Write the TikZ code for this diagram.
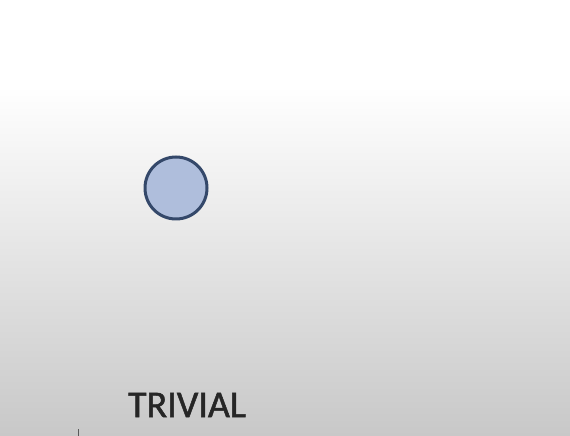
\documentclass[tikz,border=0pt]{standalone}
\usepackage{fontspec}
\setmainfont{Carlito}
\newfontfamily\captionfont[FakeBold=1.3]{Carlito}
\usetikzlibrary{positioning}
\definecolor{dotfill}{HTML}{AFBEDC}
\definecolor{dotrim}{HTML}{34486A}
\definecolor{inkgray}{HTML}{262626}
\definecolor{fadegray}{HTML}{C8C8C8}

\begin{document}
\begin{tikzpicture}[
  x=1pt,y=1pt,
  vertex/.style={circle,draw=dotrim,fill=dotfill,line width=3pt,
    minimum size=62pt,inner sep=0pt},
  caption/.style={font=\captionfont\fontsize{38}{42}\selectfont,text=inkgray,inner sep=0pt}
]
% backdrop: white band on top, fading to gray below
\fill[white] (0,350) rectangle (570,436);
\shade[top color=white,bottom color=fadegray] (0,0) rectangle (570,350);
\useasboundingbox (0,0) rectangle (570,436);

\node[vertex] (single) at (176,248) {};
\node[caption] (label) at (187,31) {TRIVIAL};

\coordinate (tick) at (78,0);
\draw[gray!70!black,line width=1pt] (tick) -- ++(0,7);
\end{tikzpicture}
\end{document}
